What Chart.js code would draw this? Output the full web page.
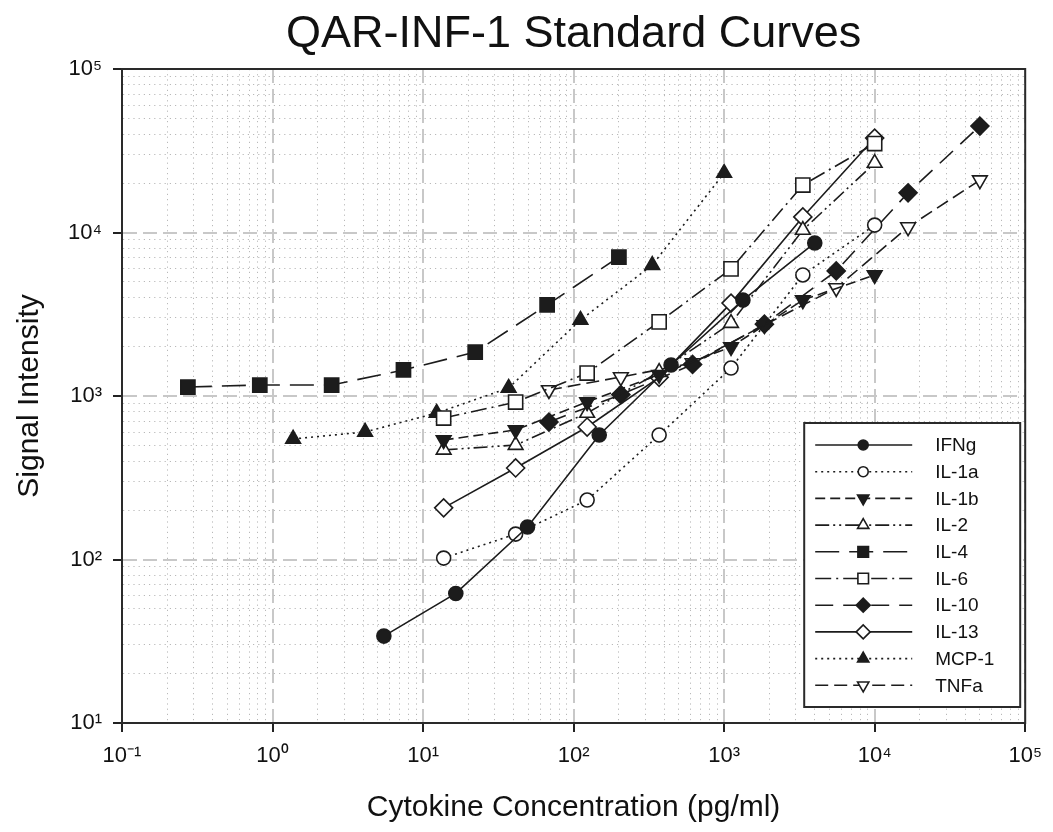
<!DOCTYPE html>
<html>
<head>
<meta charset="utf-8">
<script src="https://cdn.jsdelivr.net/npm/chart.js@4"></script>
<style>
  html, body { margin: 0; padding: 0; background: #fff; }
  #wrap { width: 1053px; height: 832px; }
</style>
</head>
<body>
<div id="wrap"><canvas id="c" width="1053" height="832"></canvas></div>
<script>
// ---- data ----
const seriesNames = ['IFNg', 'IL-1a', 'IL-1b', 'IL-2', 'IL-4', 'IL-6', 'IL-10', 'IL-13', 'MCP-1', 'TNFa'];

const concIFNg = [5.49, 16.5, 49.4, 148, 444, 1333, 4000];
const conc10k  = [13.7, 41.2, 123, 370, 1111, 3333, 10000];
const concIL4  = [0.274, 0.823, 2.47, 7.41, 22.2, 66.7, 200];
const conc50k  = [68.6, 206, 617, 1852, 5556, 16667, 50000];
const concMCP1 = [1.37, 4.12, 12.3, 37.0, 111, 333, 1000];

const sigIFNg = [34, 62, 158, 577, 1548, 3860, 8630];
const sigIL1a = [102, 143, 231, 577, 1483, 5500, 11100];
const sigIL1b = [538, 620, 919, 1350, 1995, 3860, 5500];
const sigIL2  = [468, 501, 787, 1400, 2790, 10350, 26600];
const sigIL4  = [1135, 1167, 1167, 1443, 1856, 3606, 7080];
const sigIL6  = [733, 918, 1382, 2840, 5990, 19500, 35000];
const sigIL10 = [693, 1020, 1560, 2750, 5820, 17500, 44800];
const sigIL13 = [207, 363, 646, 1300, 3700, 12450, 37800];
const sigMCP1 = [546, 603, 787, 1119, 2917, 6320, 23100];
const sigTNFa = [1088, 1306, 1590, 2720, 4580, 10800, 20900];

const xDecades = [-1, 0, 1, 2, 3, 4, 5];
const xTickLabels = ['10\u207B\u00B9', '10\u2070', '10\u00B9', '10\u00B2', '10\u00B3', '10\u2074', '10\u2075'];
const yDecades = [1, 2, 3, 4, 5];
const yTickLabels = ['10\u00B9', '10\u00B2', '10\u00B3', '10\u2074', '10\u2075'];

const titleText = 'QAR-INF-1 Standard Curves';
const xTitle = 'Cytokine Concentration (pg/ml)';
const yTitle = 'Signal Intensity';

// ---- helpers ----
function pts(xs, ys) { return xs.map((x, i) => ({ x: x, y: ys[i] })); }
function isMajor(v) { const l = Math.log10(v); return Math.abs(l - Math.round(l)) < 1e-6; }
function gridValues(decades) {
  const out = [];
  for (let i = 0; i < decades.length; i++) {
    const base = Math.pow(10, decades[i]);
    if (i === decades.length - 1) { out.push(base); break; }
    for (let k = 1; k <= 9; k++) out.push(k * base);
  }
  return out;
}
function labelFor(v, decades, labels) {
  if (!isMajor(v)) return '';
  const d = Math.round(Math.log10(v));
  const i = decades.indexOf(d);
  return i >= 0 ? labels[i] : '';
}
const tickMajor = c => c && c.tick && isMajor(c.tick.value);

const INK = '#1c1c1c';
const FONT = "'Liberation Sans', Arial, sans-serif";

function ds(label, xs, ys, style) {
  return Object.assign({
    label: label,
    data: pts(xs, ys),
    borderColor: INK,
    borderWidth: 1.6,
    pointBorderColor: INK,
    pointBorderWidth: 1.6,
    fill: false,
    tension: 0,
    pointHoverRadius: 0
  }, style);
}

const datasets = [
  ds('IFNg',  concIFNg, sigIFNg, { borderDash: [], pointStyle: 'circle', pointRadius: 7, pointBackgroundColor: INK, legendRadius: 5 }),
  ds('IL-1a', conc10k,  sigIL1a, { borderDash: [2, 4], pointStyle: 'circle', pointRadius: 7, pointBackgroundColor: '#fff', legendRadius: 5 }),
  ds('IL-1b', conc10k,  sigIL1b, { borderDash: [10, 5], pointStyle: 'triangle', pointRotation: 180, pointRadius: 8.5, pointBackgroundColor: INK, legendRadius: 6.5 }),
  ds('IL-2',  conc10k,  sigIL2,  { borderDash: [14, 4, 2, 4, 2, 4], pointStyle: 'triangle', pointRadius: 8.5, pointBackgroundColor: '#fff', legendRadius: 6.5 }),
  ds('IL-4',  concIL4,  sigIL4,  { borderDash: [24, 10], pointStyle: 'rect', pointRadius: 10, pointBackgroundColor: INK, legendRadius: 7.5 }),
  ds('IL-6',  conc10k,  sigIL6,  { borderDash: [16, 5, 2, 5], pointStyle: 'rect', pointRadius: 10, pointBackgroundColor: '#fff', legendRadius: 7.5 }),
  ds('IL-10', conc50k,  sigIL10, { borderDash: [18, 10], pointStyle: 'rectRot', pointRadius: 9, pointBackgroundColor: INK, legendRadius: 7 }),
  ds('IL-13', conc10k,  sigIL13, { borderDash: [], pointStyle: 'rectRot', pointRadius: 9, pointBackgroundColor: '#fff', legendRadius: 7 }),
  ds('MCP-1', concMCP1, sigMCP1, { borderDash: [2, 4], pointStyle: 'triangle', pointRadius: 8.5, pointBackgroundColor: INK, legendRadius: 6.5 }),
  ds('TNFa',  conc50k,  sigTNFa, { borderDash: [13, 6], pointStyle: 'triangle', pointRotation: 180, pointRadius: 8.5, pointBackgroundColor: '#fff', legendRadius: 6.5 })
];

// ---- plugins ----
const framePlugin = {
  id: 'frame',
  beforeDatasetsDraw(chart) {
    const { ctx, chartArea: a } = chart;
    ctx.save();
    ctx.strokeStyle = '#2a2a2a';
    ctx.lineWidth = 2;
    ctx.setLineDash([]);
    ctx.strokeRect(a.left, a.top, a.right - a.left, a.bottom - a.top);
    ctx.restore();
  }
};

function drawMarker(ctx, opts, x, y) {
  if (Chart.helpers && Chart.helpers.drawPoint) {
    Chart.helpers.drawPoint(ctx, opts, x, y);
    return;
  }
  ctx.beginPath();
  ctx.arc(x, y, opts.radius, 0, Math.PI * 2);
  ctx.fill();
  ctx.stroke();
}

const legendPlugin = {
  id: 'boxLegend',
  afterDraw(chart) {
    const { ctx, chartArea: a } = chart;
    const w = 216, h = 284;
    const left = a.right - 5 - w;
    const top = a.bottom - 16 - h;
    ctx.save();
    ctx.fillStyle = '#fff';
    ctx.fillRect(left, top, w, h);
    ctx.strokeStyle = '#2a2a2a';
    ctx.lineWidth = 2;
    ctx.setLineDash([]);
    ctx.strokeRect(left, top, w, h);
    const step = 26.7;
    chart.data.datasets.forEach((d, i) => {
      const y = top + 22 + i * step;
      ctx.save();
      ctx.strokeStyle = INK;
      ctx.lineWidth = 1.6;
      ctx.setLineDash(d.borderDash || []);
      ctx.beginPath();
      ctx.moveTo(left + 11, y);
      ctx.lineTo(left + 108, y);
      ctx.stroke();
      ctx.setLineDash([]);
      ctx.fillStyle = d.pointBackgroundColor;
      ctx.strokeStyle = INK;
      ctx.lineWidth = 1.6;
      drawMarker(ctx, { pointStyle: d.pointStyle, radius: d.legendRadius, rotation: d.pointRotation || 0, borderWidth: 1.6 }, left + 59, y);
      ctx.restore();
      ctx.fillStyle = '#111';
      ctx.font = '19px ' + FONT;
      ctx.textBaseline = 'middle';
      ctx.textAlign = 'left';
      ctx.fillText(d.label, left + 131, y + 1);
    });
    ctx.restore();
  }
};

function scaleOpts(min, max, decades, labels, titleTxt, titlePad, fit) {
  return {
    type: 'logarithmic',
    min: min,
    max: max,
    afterBuildTicks: s => { s.ticks = gridValues(decades).map(v => ({ value: v })); },
    afterFit: fit,
    ticks: {
      autoSkip: false,
      maxRotation: 0,
      minRotation: 0,
      padding: 11,
      color: '#111',
      font: { family: FONT, size: 22 },
      callback: v => labelFor(v, decades, labels)
    },
    grid: {
      display: true,
      drawOnChartArea: true,
      drawTicks: true,
      tickLength: 9,
      color: c => tickMajor(c) ? '#c8c8c8' : '#b9b9b9',
      lineWidth: c => tickMajor(c) ? 2 : 1,
      tickColor: c => tickMajor(c) ? '#222' : 'rgba(0,0,0,0)',
      tickWidth: 2
    },
    border: {
      display: true,
      color: '#222',
      width: 2,
      dash: c => tickMajor(c) ? [14, 6] : [1.2, 4]
    },
    title: {
      display: true,
      text: titleTxt,
      color: '#111',
      font: { family: FONT, size: 30 },
      padding: titlePad
    }
  };
}

Chart.defaults.font.family = FONT;

new Chart(document.getElementById('c'), {
  type: 'line',
  data: { datasets: datasets },
  options: {
    responsive: false,
    animation: false,
    events: [],
    layout: { padding: { left: 0, right: 25, top: 0, bottom: 0 } },
    plugins: {
      legend: { display: false },
      tooltip: { enabled: false },
      title: {
        display: true,
        fullSize: false,
        text: titleText,
        color: '#111',
        font: { family: FONT, size: 45, weight: 'normal' },
        padding: { top: 8, bottom: 7 }
      }
    },
    scales: {
      x: scaleOpts(0.1, 1e5, xDecades, xTickLabels, xTitle, { top: 0, bottom: 6 }, s => { s.height = 109; }),
      y: scaleOpts(10, 1e5, yDecades, yTickLabels, yTitle, { top: 12, bottom: 0 }, s => { s.width = 122; })
    }
  },
  plugins: [framePlugin, legendPlugin]
});
</script>
</body>
</html>
